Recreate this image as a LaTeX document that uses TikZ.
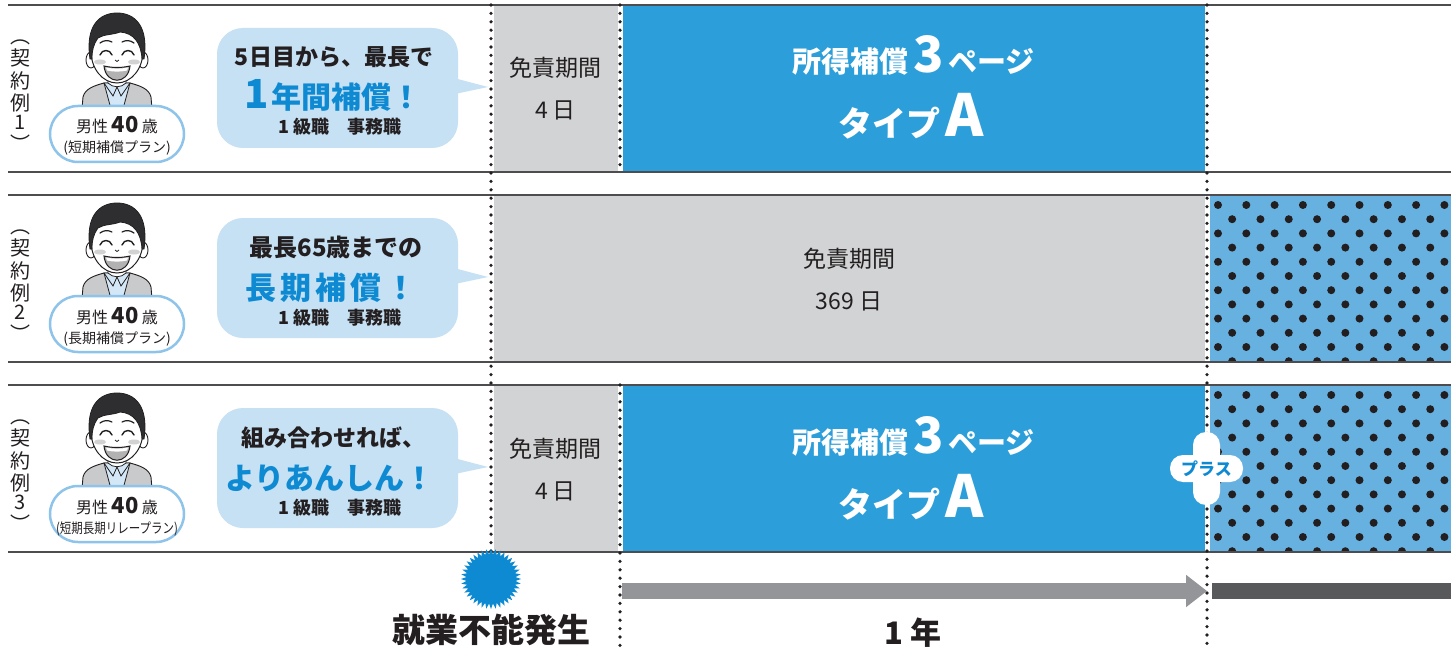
\documentclass[tikz,border=0pt]{standalone}
\usepackage{fontspec}
\setmainfont{Noto Sans CJK JP}
\usetikzlibrary{shapes.geometric,arrows.meta}

\definecolor{ink}{HTML}{231F20}
\definecolor{rule}{HTML}{4D4D4F}
\definecolor{boxblue}{HTML}{2C9FDA}
\definecolor{boxgray}{HTML}{D1D3D4}
\definecolor{dotblue}{HTML}{67B1E1}
\definecolor{bubblefill}{HTML}{C6E0F4}
\definecolor{accent}{HTML}{0E8AD2}
\definecolor{badgeline}{HTML}{8EC3EA}
\definecolor{jacket}{HTML}{C9CACB}
\definecolor{shirt}{HTML}{D3E7F6}
\definecolor{hair}{HTML}{2E2E30}
\definecolor{arrowgray}{HTML}{939598}
\definecolor{bargray}{HTML}{58595B}

\newcommand{\fs}[1]{\fontsize{#1}{#1}\selectfont}

\tikzset{
  rowrule/.style={draw=rule, line width=2.4pt},
  vdots/.style={draw=ink, line width=3.6pt, dash pattern=on 0pt off 8.4pt, line cap=round},
  gapline/.style={draw=white, line width=5pt},
  txt/.style={inner sep=0pt, text=ink, anchor=base},
  vlabel/.style={inner sep=0pt, text=ink, font=\fs{20}},
  bubble/.style={fill=bubblefill, rounded corners=26pt, minimum width=241pt, minimum height=120pt, inner sep=0pt},
  badge/.style={fill=white, draw=badgeline, line width=2.5pt, rounded corners=28pt, minimum width=134pt, minimum height=56pt, inner sep=0pt},
  crossarm/.style={fill=white, rounded corners=13pt, inner sep=0pt},
  oldman/.pic={
    % jacket, shirt and collar
    \filldraw[fill=jacket, draw=ink, line width=0.9pt] (-35,104) -- (-34,92) .. controls (-32,84) and (-24,81) .. (-13,78) -- (13,78) .. controls (24,81) and (32,84) .. (34,92) -- (35,104) -- cycle;
    \filldraw[fill=shirt, draw=ink, line width=0.8pt] (-13,78) -- (13,78) -- (6,104) -- (-6,104) -- cycle;
    \draw[ink, line width=0.8pt] (-13,78) -- (-4,91) -- (0,82) -- (4,91) -- (13,78);
    % neck and ears
    \filldraw[fill=white, draw=ink, line width=0.8pt] (-9,64) -- (-9,78) .. controls (-4,83) and (4,83) .. (9,78) -- (9,64) -- cycle;
    \filldraw[fill=white, draw=ink, line width=0.9pt] (-26,55) ellipse [x radius=5, y radius=8];
    \filldraw[fill=white, draw=ink, line width=0.9pt] (26,55) ellipse [x radius=5, y radius=8];
    % face
    \filldraw[fill=white, draw=ink, line width=1pt] (0,46) ellipse [x radius=26, y radius=32];
    % hair
    \filldraw[fill=hair, draw=ink, line width=0.8pt] (-27,54) .. controls (-32,20) and (-17,8) .. (0,8) .. controls (17,8) and (32,20) .. (27,54) -- (25,54) .. controls (24,38) and (17,28) .. (3,27) .. controls (-4,30) and (-13,29) .. (-19,33) .. controls (-24,40) and (-25,46) .. (-25,54) -- cycle;
    % eyebrows and closed eyes
    \draw[ink, line width=1.2pt, line cap=round] (-17,38) .. controls (-13,35) and (-9,35) .. (-5,37);
    \draw[ink, line width=1.2pt, line cap=round] (5,37) .. controls (9,35) and (13,35) .. (17,38);
    \draw[ink, line width=1.4pt, line cap=round] (-17,50) .. controls (-15,44) and (-7,44) .. (-5,50);
    \draw[ink, line width=1.4pt, line cap=round] (5,50) .. controls (7,44) and (15,44) .. (17,50);
    % cheeks and nose
    \fill[gray!35] (-17,57) ellipse [x radius=6, y radius=2.5];
    \fill[gray!35] (17,57) ellipse [x radius=6, y radius=2.5];
    \draw[ink, line width=0.8pt] (-2,55) .. controls (0,57) .. (2,55);
    % open mouth
    \filldraw[fill=gray!60, draw=ink, line width=1pt] (-13,61) .. controls (-4,63) and (4,63) .. (13,61) .. controls (11,80) and (-11,80) .. (-13,61) -- cycle;
    \fill[white] (-11,62.5) .. controls (-4,64) and (4,64) .. (11,62.5) -- (10,65.5) .. controls (4,67) and (-4,67) .. (-10,65.5) -- cycle;
  }
}

\begin{document}
\begin{tikzpicture}[x=1pt, y=-1pt]
\useasboundingbox (0,0) rectangle (1451,650);
\fill[white] (0,0) rectangle (1451,650);

% ---------- coloured bands ----------
\begin{scope}[shift={(0,5)}]
  \fill[boxgray] (491,0) rectangle (620,167);
  \fill[boxblue] (620,0) rectangle (1207,167);
\end{scope}
\begin{scope}[shift={(0,195)}]
  \fill[boxgray] (491,0) rectangle (1207,167);
  \fill[dotblue] (1207,0) rectangle (1451,167);
  \begin{scope}
    \clip (1207,0) rectangle (1451,167);
    \foreach \i in {0,...,11} \foreach \j in {0,...,8}
      \fill[ink] ({1218+28.3*\j+mod(\i,2)*14.15},{10+14.2*\i}) circle [radius=4];
  \end{scope}
\end{scope}
\begin{scope}[shift={(0,385)}]
  \fill[boxgray] (491,0) rectangle (620,167);
  \fill[boxblue] (620,0) rectangle (1207,167);
  \fill[dotblue] (1207,0) rectangle (1451,167);
  \begin{scope}
    \clip (1207,0) rectangle (1451,167);
    \foreach \i in {0,...,11} \foreach \j in {0,...,8}
      \fill[ink] ({1218+28.3*\j+mod(\i,2)*14.15},{10+14.2*\i}) circle [radius=4];
  \end{scope}
\end{scope}

% white gaps beside the dotted guides
\draw[gapline] (491,5) -- (491,552);
\draw[gapline] (620,5) -- (620,172);
\draw[gapline] (620,385) -- (620,552);
\draw[gapline] (1207,5) -- (1207,552);

% ---------- common parts of each row ----------
\foreach \r/\n in {0/1,1/2,2/3} {
  \begin{scope}[shift={(0,{5+190*\r})}]
    \draw[rowrule] (8,0) -- (1451,0);
    \draw[rowrule] (8,167) -- (1451,167);
    % vertical case label (vertical-form brackets)
    \node[vlabel] (po\n) at (20,37) {︵};
    \node[vlabel] (ka\n) at (20,53) {契};
    \node[vlabel] (ya\n) at (20,76) {約};
    \node[vlabel] (re\n) at (20,98) {例};
    \node[vlabel] (nu\n) at (20,117) {\n};
    \node[vlabel] (pc\n) at (20,138) {︶};
    % portrait
    \pic at (117,0) {oldman};
    \node[badge] (badge\n) at (117,129) {};
    \node[txt, font=\fs{16}] (who\n) at (117,128) {男性 {\bfseries\fs{22}40} 歳};
    % speech bubble
    \node[bubble] (bub\n) at (337.5,83) {};
    \fill[bubblefill] (450,72) -- (488,82) -- (450,90) -- cycle;
    \node[txt, font=\bfseries\fs{18}] (job\n) at (340,129) {1 級職　事務職};
  \end{scope}
}

% ---------- dotted guides ----------
\draw[vdots] (491,5) -- (491,552);
\draw[vdots] (620,5) -- (620,172);
\draw[vdots] (620,385) -- (620,650);
\draw[vdots] (1207,5) -- (1207,650);

% ---------- row 1 ----------
\begin{scope}[shift={(0,5)}]
  \node[txt, font=\fs{14}] (planlbl1) at (117,148) {(短期補償プラン)};
  \node[txt, font=\bfseries\fs{23}] (say1a) at (334,61) {5日目から、最長で};
  \node[txt, font=\bfseries\fs{30}, text=accent] (say1b) at (333,104) {{\fs{40}1}\kern2pt 年間補償！};
  \node[txt, font=\fs{23}] (ex1a) at (555.5,72) {免責期間};
  \node[txt, font=\fs{23}] (ex1b) at (555.5,114) {4 日};
  \node[txt, font=\bfseries\fs{29}, text=white] (pay1a) at (913.5,68) {所得補償\,{\fs{50}3}\,ページ};
  \node[txt, font=\bfseries\fs{34}, text=white] (pay1b) at (911,132) {タイプ\,{\fs{58}A}};
\end{scope}

% ---------- row 2 ----------
\begin{scope}[shift={(0,195)}]
  \node[txt, font=\fs{14}] (planlbl2) at (117,148) {(長期補償プラン)};
  \node[txt, font=\bfseries\fs{24}] (say2a) at (336,61) {最長65歳までの};
  \node[txt, font=\bfseries\fs{31}, text=accent] (say2b) at (331,104) {長\kern4pt 期\kern4pt 補\kern4pt 償\kern4pt ！};
  \node[txt, font=\fs{23}] (ex2a) at (849,72) {免責期間};
  \node[txt, font=\fs{23}] (ex2b) at (849,114) {369 日};
\end{scope}

% ---------- row 3 ----------
\begin{scope}[shift={(0,385)}]
  \node[txt, font=\fs{14}, xscale=0.82] (planlbl3) at (117,148) {(短期長期リレープラン)};
  \node[txt, font=\bfseries\fs{23}] (say3a) at (333,61) {組み合わせれば、};
  \node[txt, font=\bfseries\fs{30}, text=accent] (say3b) at (330,104) {よりあんしん！};
  \node[txt, font=\fs{23}] (ex3a) at (555.5,72) {免責期間};
  \node[txt, font=\fs{23}] (ex3b) at (555.5,114) {4 日};
  \node[txt, font=\bfseries\fs{29}, text=white] (pay3a) at (913.5,68) {所得補償\,{\fs{50}3}\,ページ};
  \node[txt, font=\bfseries\fs{34}, text=white] (pay3b) at (911,132) {タイプ\,{\fs{58}A}};
\end{scope}

% ---------- "plus" badge ----------
\node[crossarm, minimum width=27pt, minimum height=73pt] (plusv) at (1206.5,468.5) {};
\node[crossarm, minimum width=73pt, minimum height=27pt] (plush) at (1206.5,468.5) {};
\node[inner sep=0pt, text=accent, font=\bfseries\fs{17}] (plustxt) at (1206.5,468.5) {プラス};

% ---------- time axis ----------
\node[star, star points=40, star point ratio=1.22, fill=accent, minimum size=60pt, inner sep=0pt] (onset) at (491,579) {};
\node[txt, font=\bfseries\fs{33}] (onsetlbl) at (491,642) {就業不能発生};
\coordinate (arrS) at (622,591);
\coordinate (arrE) at (1207,591);
\draw[arrowgray, line width=16pt, -{Triangle[length=21pt, width=31pt]}] (arrS) -- (arrE);
\coordinate (barS) at (1212,591);
\coordinate (barE) at (1451,591);
\draw[bargray, line width=16pt] (barS) -- (barE);
\node[txt, font=\bfseries\fs{31}] (yearlbl) at (913,644) {1 年};
\end{tikzpicture}
\end{document}
